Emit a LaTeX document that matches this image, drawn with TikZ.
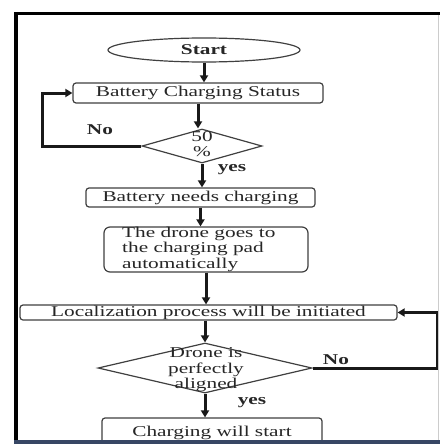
\documentclass[tikz,border=0pt]{standalone}
\usepackage{fontspec}
\usepackage{graphicx}
\setmainfont{Liberation Serif}
\usetikzlibrary{shapes.geometric,arrows.meta}
\newcommand{\sx}[1]{\scalebox{1.42}[1]{#1}}
\newcommand{\sxlines}[2]{\scalebox{1.42}[1]{\def\arraystretch{1.0}\setlength{\tabcolsep}{0pt}\begin{tabular}{#1}#2\end{tabular}}}
\begin{document}
\begin{tikzpicture}[x=1pt,y=-1pt,
  txt/.style={font=\fontsize{15}{15.5}\selectfont, text=black!85},
  boldtxt/.style={font=\fontsize{15}{15.5}\selectfont\bfseries, text=black!85, inner sep=0pt},
  procbox/.style={txt, draw=black!75, line width=1.2pt, rounded corners=3pt, inner sep=0pt},
  decision/.style={diamond, draw=black!75, line width=1.2pt, inner sep=0pt},
  flow/.style={line width=3pt, draw=black!90, -{Triangle[length=7pt,width=8pt]}},
  frameline/.style={draw=black, line width=3.5pt}]
\useasboundingbox (0,0) rectangle (440,444);
\fill[white] (0,0) rectangle (440,444);

% nodes
\node[ellipse, draw=black!75, line width=1.2pt, minimum width=192pt, minimum height=24pt, inner sep=0pt, boldtxt] (start) at (204,50) {\sx{Start}};
\node[procbox, minimum width=250pt, minimum height=20pt] (bcs) at (198,93) {\sx{Battery Charging Status}};
\node[decision, minimum width=120pt, minimum height=34pt] (d1) at (202,146) {};
\node[txt, inner sep=0pt] (d1t) at (202,146) {\sxlines{c}{50\\\%}};
\node[procbox, minimum width=229pt, minimum height=19pt] (bnc) at (200.5,197.5) {\sx{Battery needs charging}};
\node[procbox, rounded corners=6pt, minimum width=204pt, minimum height=45pt] (drone) at (206,249.5) {};
\node[txt, inner sep=0pt, anchor=west] (dronet) at (122,249.5) {\sxlines{l}{The drone goes to\\the charging pad\\automatically}};
\node[procbox, minimum width=377pt, minimum height=15pt] (loc) at (208.5,312.5) {\sx{Localization process will be initiated}};
\node[decision, minimum width=214pt, minimum height=50pt] (d2) at (205,368) {};
\node[txt, inner sep=0pt] (d2t) at (206,370) {\sxlines{c}{Drone is\\perfectly\\aligned}};
\node[procbox, minimum width=220pt, minimum height=32pt] (cws) at (212,434) {};
\node[txt, inner sep=0pt] (cwst) at (212,433) {\sx{Charging will start}};

% labels
\node[boldtxt] (no1) at (100,130) {\sx{No}};
\node[boldtxt] (yes1) at (232,170) {\sx{yes}};
\node[boldtxt] (no2) at (336,360) {\sx{No}};
\node[boldtxt] (yes2) at (252,403) {\sx{yes}};

% loop coordinates
\coordinate (lloop) at (42,0);
\coordinate (rloop) at (437,0);

% connectors
\draw[flow] (start.south) -- (start.south |- bcs.north);
\draw[flow] (bcs.south) -- (bcs.south |- d1.north);
\draw[flow] (d1.south) -- (d1.south |- bnc.north);
\draw[flow] (bnc.south) -- (bnc.south |- drone.north);
\draw[flow] (drone.south) -- (drone.south |- loc.north);
\draw[flow] (d2.north |- loc.south) -- (d2.north);
\draw[flow] (d2.south) -- (d2.south |- cws.north);
\draw[flow] (d1.west) -- (d1.west -| lloop) |- (bcs.west);
\draw[flow] (d2.east) -- (d2.east -| rloop) |- (loc.east);

% frame
\draw[frameline] (14,13.5) -- (440,13.5);
\draw[draw=black, line width=4pt] (15.5,12) -- (15.5,440);
\draw[black!20, line width=1pt] (438,15) -- (438,440);
\fill[white] (0,444) rectangle (440,460);
\fill[color={rgb,255:red,55;green,70;blue,100}] (14,440) rectangle (440,444);
\end{tikzpicture}
\end{document}
